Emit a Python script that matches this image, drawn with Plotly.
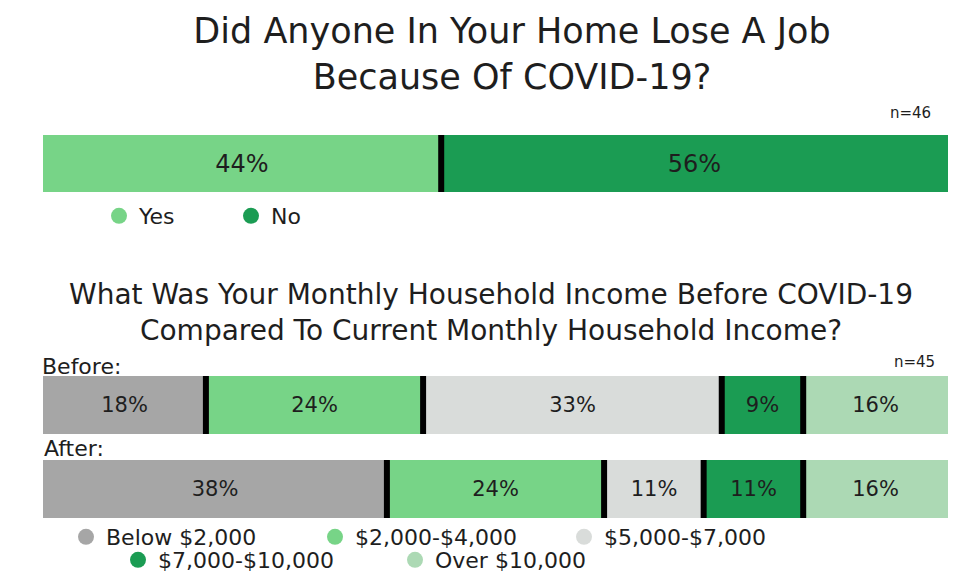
import plotly.graph_objects as go
import numpy as np

# ---- data ----
job_categories = ["Yes", "No"]
job_values = [44, 56]
job_colors = ["#77d487", "#1b9c53"]

income_periods = ["Before", "After"]
income_categories = ["Below $2,000", "$2,000-$4,000", "$5,000-$7,000", "$7,000-$10,000", "Over $10,000"]
income_before = [18, 24, 33, 9, 16]
income_after = [38, 24, 11, 11, 16]
income_colors = ["#a6a6a6", "#77d487", "#d9dcda", "#1b9c53", "#acd9b4"]

# page body has 8px margin; figure fills the rest of the 976x573 window
OFF = 8
W, H = 976 - OFF, 573 - OFF
FONT = "DejaVu Sans"
TXT = "#1e1e1e"


def px(x):
    return (x - OFF) / W


def py(y):
    return 1 - (y - OFF) / H


fig = go.Figure()

# top stacked bar
for cat, val, col in zip(job_categories, job_values, job_colors):
    fig.add_trace(go.Bar(
        y=["job"], x=[val], orientation="h", width=1,
        marker=dict(color=col, line=dict(width=0)),
        text=[f"{val}%"], textposition="inside", insidetextanchor="middle",
        textfont=dict(size=24, color=TXT, family=FONT),
        xaxis="x", yaxis="y", showlegend=False, name=cat,
    ))
    fig.add_trace(go.Scatter(
        x=[None], y=[None], mode="markers", name=cat,
        marker=dict(size=20, color=col, symbol="circle"),
        xaxis="x", yaxis="y", legend="legend",
    ))

# bottom stacked bars
for i, (cat, col) in enumerate(zip(income_categories, income_colors)):
    fig.add_trace(go.Bar(
        y=["After", "Before"], x=[income_after[i], income_before[i]],
        orientation="h", width=0.69,
        marker=dict(color=col, line=dict(width=0)),
        text=[f"{income_after[i]}%", f"{income_before[i]}%"],
        textposition="inside", insidetextanchor="middle",
        textfont=dict(size=21, color=TXT, family=FONT),
        xaxis="x2", yaxis="y2", showlegend=False, name=cat,
    ))
    fig.add_trace(go.Scatter(
        x=[None], y=[None], mode="markers", name=cat,
        marker=dict(size=20, color=col, symbol="circle"),
        xaxis="x2", yaxis="y2", legend="legend2" if i < 3 else "legend3",
    ))

# black separators between segments
shapes = []
for b in np.cumsum(job_values)[:-1]:
    shapes.append(dict(type="line", xref="x", yref="y", x0=b, x1=b, y0=-0.5, y1=0.5,
                       line=dict(color="black", width=6)))
for yi, vals in [(1, income_before), (0, income_after)]:
    for b in np.cumsum(vals)[:-1]:
        shapes.append(dict(type="line", xref="x2", yref="y2", x0=b, x1=b,
                           y0=yi - 0.345, y1=yi + 0.345,
                           line=dict(color="black", width=6)))

annotations = [
    dict(text="n=46", x=px(933), y=py(113), xref="paper", yref="paper",
         xanchor="right", yanchor="middle", showarrow=False,
         font=dict(size=15, color=TXT, family=FONT)),
    dict(text="n=45", x=px(937), y=py(362), xref="paper", yref="paper",
         xanchor="right", yanchor="middle", showarrow=False,
         font=dict(size=15, color=TXT, family=FONT)),
    dict(text="Before:", x=px(40), y=py(366), xref="paper", yref="paper",
         xanchor="left", yanchor="middle", showarrow=False,
         font=dict(size=22, color=TXT, family=FONT)),
    dict(text="After:", x=px(42), y=py(449), xref="paper", yref="paper",
         xanchor="left", yanchor="middle", showarrow=False,
         font=dict(size=22, color=TXT, family=FONT)),
    dict(text="What Was Your Monthly Household Income Before COVID-19<br>"
              "Compared To Current Monthly Household Income?",
         x=px(491), y=py(312), xref="paper", yref="paper",
         xanchor="center", yanchor="middle", showarrow=False,
         font=dict(size=28, color=TXT, family=FONT)),
]

xdom = [px(43), px(948)]
fig.update_layout(
    width=W, height=H,
    margin=dict(l=0, r=0, t=0, b=0, autoexpand=False),
    paper_bgcolor="white", plot_bgcolor="white",
    barmode="stack", bargap=0,
    title=dict(text="Did Anyone In Your Home Lose A Job<br>Because Of COVID-19?",
               x=px(512), xanchor="center", y=py(43), yanchor="middle",
               font=dict(size=35, color=TXT, family=FONT)),
    xaxis=dict(domain=xdom, range=[0, 100], visible=False, anchor="y", fixedrange=True),
    yaxis=dict(domain=[py(192), py(135)], range=[-0.5, 0.5], visible=False,
               anchor="x", fixedrange=True),
    xaxis2=dict(domain=xdom, range=[0, 100], visible=False, anchor="y2", fixedrange=True),
    yaxis2=dict(domain=[py(518), py(376)], range=[-0.345, 1.345], visible=False,
                anchor="x2", categoryorder="array", categoryarray=["After", "Before"],
                fixedrange=True),
    legend=dict(orientation="h", x=px(99), y=py(216), xanchor="left", yanchor="middle",
                font=dict(size=22, color=TXT, family=FONT), entrywidth=87,
                entrywidthmode="pixels", bgcolor="rgba(0,0,0,0)", itemsizing="trace",
                traceorder="normal"),
    legend2=dict(orientation="h", x=px(66), y=py(537), xanchor="left", yanchor="middle",
                 font=dict(size=22, color=TXT, family=FONT), entrywidth=204,
                 entrywidthmode="pixels", bgcolor="rgba(0,0,0,0)", itemsizing="trace",
                 traceorder="normal"),
    legend3=dict(orientation="h", x=px(118), y=py(560), xanchor="left", yanchor="middle",
                 font=dict(size=22, color=TXT, family=FONT), entrywidth=232,
                 entrywidthmode="pixels", bgcolor="rgba(0,0,0,0)", itemsizing="trace",
                 traceorder="normal"),
    shapes=shapes,
    annotations=annotations,
    showlegend=True,
)

fig.write_html("out.html")
